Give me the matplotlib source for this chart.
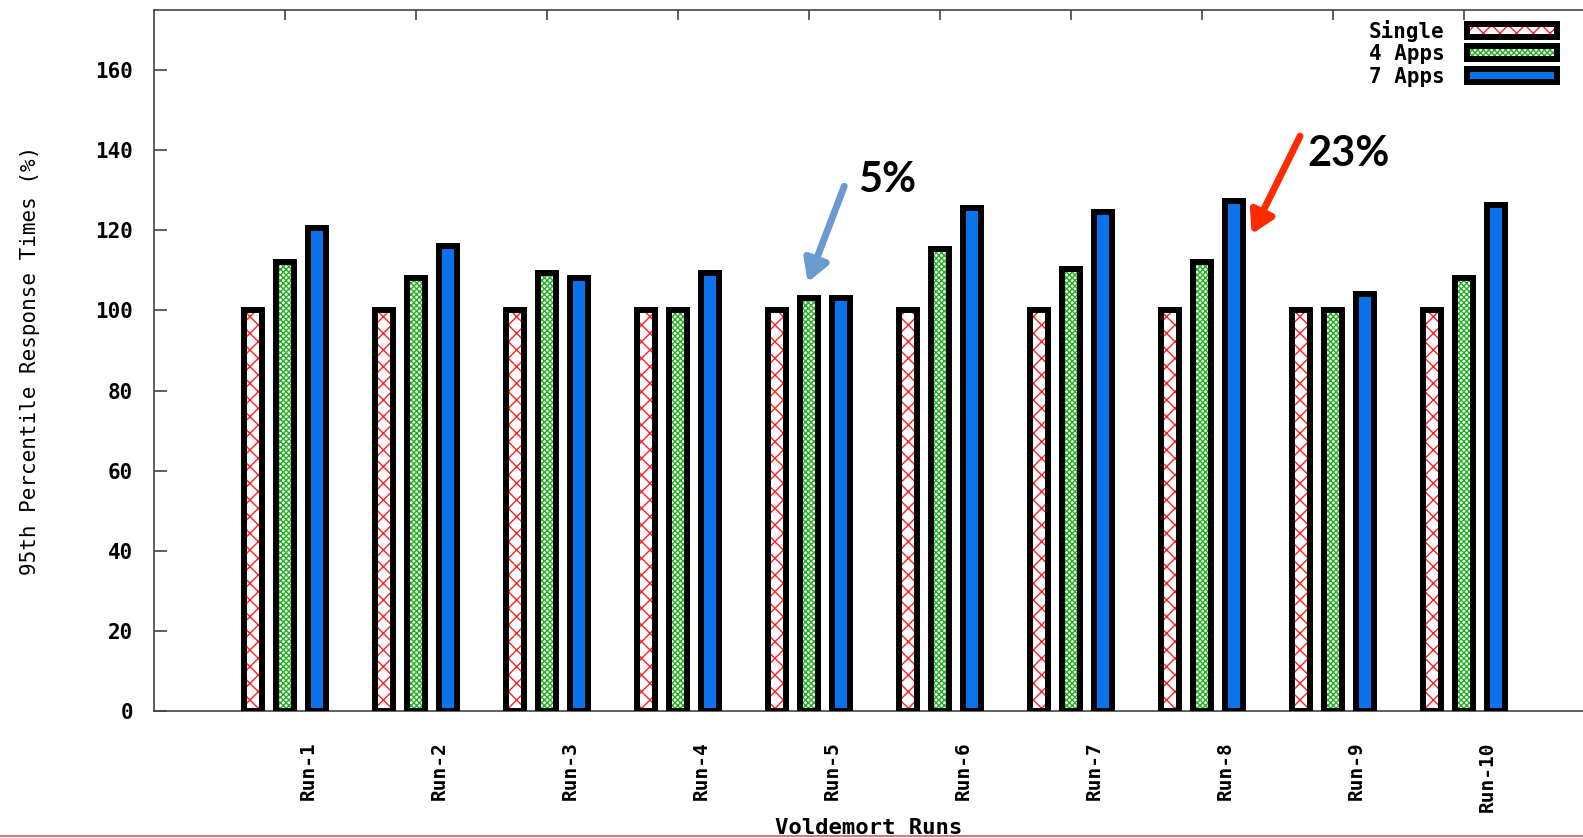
"""
95th percentile response times of Voldemort runs, normalised to the single-app run
"""
import numpy as np
import matplotlib
matplotlib.use("Agg")
import matplotlib.pyplot as plt
from matplotlib.transforms import ScaledTranslation
from matplotlib.lines import Line2D

runs = ["Run-1", "Run-2", "Run-3", "Run-4", "Run-5",
        "Run-6", "Run-7", "Run-8", "Run-9", "Run-10"]
single = [100, 100, 100, 100, 100, 100, 100, 100, 100, 100]
four_apps = [112, 108, 109.4, 100, 103.2, 115.3, 110.3, 112, 100, 108]
seven_apps = [120.6, 116, 108, 109.4, 103.2, 125.5, 124.6, 127.3, 104.2, 126.4]
yticks = [0, 20, 40, 60, 80, 100, 120, 140, 160]

MONO = "DejaVu Sans Mono"
RED = "#ff2020"
GREEN = "#22b022"
BLUE = "#0a72ea"

fig = plt.figure(figsize=(15.83, 8.38), dpi=100)
ax = fig.add_axes([0.0973, 0.1516, 0.9027, 0.8365])

x = np.arange(1, len(runs) + 1)
w = 0.135
lw = 4.3

series = [
    (single, -0.245, "white", RED, "xx", "Single"),
    (four_apps, 0.0, "white", GREEN, "xxxxxx", "4 Apps"),
    (seven_apps, 0.245, BLUE, BLUE, None, "7 Apps"),
]
handles = []
for vals, off, face, hcol, hatch, name in series:
    # fill + hatch first, then a thick black outline on top
    ax.bar(x + off, vals, w, color=face, edgecolor=hcol, hatch=hatch,
           linewidth=0, zorder=2)
    ax.bar(x + off, vals, w, fill=False, edgecolor="black",
           linewidth=lw, zorder=3)
    h = ax.bar([0], [0], 0, color=face, edgecolor=hcol, hatch=hatch,
               linewidth=0, label=name)
    handles.append(h)

ax.set_xlim(0, 10.91)
ax.set_ylim(0, 175)

for side in ["left", "top", "bottom"]:
    ax.spines[side].set_color("#444444")
    ax.spines[side].set_linewidth(1.2)
ax.spines["right"].set_visible(False)

ax.set_yticks(yticks)
ax.set_yticklabels([str(t) for t in yticks], fontfamily=MONO,
                   fontweight="bold", fontsize=15)
ax.tick_params(axis="y", direction="in", length=9, width=1.2,
               color="#444444", pad=15)

ax.set_xticks(x)
ax.set_xticklabels(runs, rotation=90, fontfamily=MONO, fontsize=14,
                   fontweight="bold", va="top", ha="center")
ax.tick_params(axis="x", direction="in", length=7, width=1.2,
               color="#444444", top=True, bottom=False, pad=22)
shift = ScaledTranslation(0.23, 0, fig.dpi_scale_trans)
for lbl in ax.get_xticklabels():
    lbl.set_transform(lbl.get_transform() + shift)

ax.set_ylabel("95th Percentile Response Times (%)", fontfamily=MONO,
              fontsize=15, labelpad=40)
ax.set_xlabel("Voldemort Runs", fontfamily=MONO, fontweight="bold",
              fontsize=16, labelpad=4)

leg = ax.legend(handles=[hd.patches[0] for hd in handles],
                labels=["Single", "4 Apps", "7 Apps"],
                loc="upper right", bbox_to_anchor=(0.9875, 0.998),
                borderaxespad=0, frameon=False, markerfirst=False,
                handlelength=4.3, handleheight=0.6, labelspacing=0.12,
                handletextpad=1.1,
                prop={"family": MONO, "size": 15, "weight": "bold"})
for p in leg.get_patches():
    p.set_edgecolor("black")
    p.set_linewidth(4.3)
leg.get_patches()[0].set_hatch("xx")
leg.get_patches()[1].set_hatch("xxxxxx")
for p, hc in zip(leg.get_patches()[:2], [RED, GREEN]):
    p._hatch_color = matplotlib.colors.to_rgba(hc)

# callouts
head = "-|>,head_length=1.3,head_width=0.75"
ax.annotate("", xy=(4.99, 107), xytext=(5.27, 131),
            arrowprops=dict(arrowstyle=head, color="#6a9bd0", lw=5,
                            shrinkA=0, shrinkB=0))
ax.text(5.6, 132.5, "5%", fontfamily="Lato", fontweight="bold",
        fontsize=30, ha="center", va="center")
ax.annotate("", xy=(8.38, 119), xytext=(8.75, 143.5),
            arrowprops=dict(arrowstyle=head, color="#ff2a00", lw=5,
                            shrinkA=0, shrinkB=0))
ax.text(9.12, 139, "23%", fontfamily="Lato", fontweight="bold",
        fontsize=30, ha="center", va="center")

fig.add_artist(Line2D([0, 1], [0.002, 0.002], color="#d0605a", lw=1.2,
                      transform=fig.transFigure))

fig.savefig("out.png", dpi=100)
